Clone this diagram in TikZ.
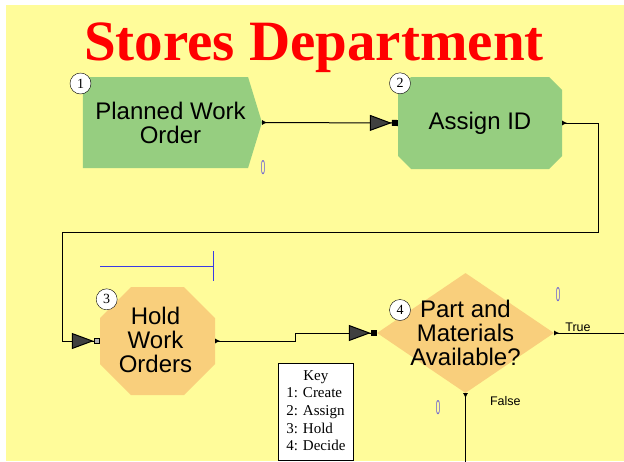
\documentclass[tikz,border=0pt]{standalone}
\usepackage{fontspec}
\setmainfont{Liberation Serif}
\newfontfamily\arialfont{Liberation Sans}
\usetikzlibrary{arrows.meta,shapes.geometric,shapes.symbols}
\definecolor{ArenaYellow}{HTML}{FFFC9A}
\definecolor{ArenaGreen}{HTML}{96CE80}
\definecolor{ArenaOrange}{HTML}{F9CF7C}
\definecolor{ArenaTip}{HTML}{404040}
\definecolor{ArenaSquare}{HTML}{B4B4B4}
\definecolor{CounterBlue}{HTML}{6E64D2}
\definecolor{QueueBlue}{HTML}{3A3AE6}

\begin{document}
\begin{tikzpicture}[
    x=1pt, y=-1pt,
    modtext/.style={font=\arialfont\fontsize{24}{24}\selectfont, align=center},
    octo/.style 2 args={rectangle, inner sep=0pt, path picture={\fill[#2]
      ([xshift=#1]path picture bounding box.north west) --
      ([xshift=-#1]path picture bounding box.north east) --
      ([yshift=-#1]path picture bounding box.north east) --
      ([yshift=#1]path picture bounding box.south east) --
      ([xshift=-#1]path picture bounding box.south east) --
      ([xshift=#1]path picture bounding box.south west) --
      ([yshift=#1]path picture bounding box.south west) --
      ([yshift=-#1]path picture bounding box.north west) -- cycle;}},
    createbox/.style={signal, signal to=east, signal pointer angle=146, fill=ArenaGreen,
      minimum width=179pt, minimum height=91pt, inner sep=0pt},
    assignbox/.style={octo={13pt}{ArenaGreen}, minimum width=164pt, minimum height=92pt},
    holdbox/.style={octo={31pt}{ArenaOrange}, minimum width=115pt, minimum height=108pt},
    decidebox/.style={diamond, fill=ArenaOrange, minimum width=177pt,
      minimum height=120pt, inner sep=0pt},
    numcirc/.style={circle, draw, fill=white, minimum size=21pt, inner sep=0pt,
      font=\fontsize{14}{14}\selectfont},
    counter/.style={text=CounterBlue, font=\arialfont\fontsize{20}{20}\selectfont, inner sep=0pt},
    edgetext/.style={font=\arialfont\fontsize{12.5}{12.5}\selectfont, inner sep=1pt},
    keybox/.style={draw, fill=white, line width=0.8pt, inner sep=4pt, minimum width=75pt,
      minimum height=97pt, anchor=north west, font=\fontsize{15}{17.7}\selectfont},
    arr/.style={{Latex[length=5pt,width=5pt,reversed]}-{Triangle[length=22pt,width=16pt,fill=ArenaTip] Square[length=6pt,width=6pt,fill=black]},
      line width=1pt},
    arrhold/.style={{Latex[length=5pt,width=5pt,reversed]}-{Triangle[length=22pt,width=16pt,fill=ArenaTip] Square[length=6pt,width=6pt,fill=ArenaSquare]},
      line width=1pt},
    arrout/.style={{Latex[length=5pt,width=5pt,reversed]}-, line width=1pt},
    queue/.style={QueueBlue, line width=1pt}
  ]
    \useasboundingbox (0,0) rectangle (624,461);
    \fill[white] (0,0) rectangle (624,461);
    \fill[ArenaYellow] (6,5) rectangle (624,461);

    \node[anchor=base, text=red, font=\fontsize{57}{60}\selectfont\bfseries] (title) at (314,60) {Stores Department};

    % modules
    \node[createbox, label={[modtext, xshift=5pt]center:{Planned Work\\Order}}] (create) at (165.5,122.5) {};
    \node[assignbox, label={[modtext]center:{Assign ID}}] (assign) at (480,123) {};
    \node[holdbox, label={[modtext, xshift=-2pt, yshift=1pt]center:{Hold\\Work\\Orders}}] (hold) at (157.5,341) {};
    \node[decidebox, label={[modtext]center:{Part and\\Materials\\Available?}}] (decide) at (465.5,333) {};

    % queue of the hold
    \coordinate (qL) at (100,266);
    \coordinate (qR) at (213,266);
    \draw[queue] (qL) -- (qR) ++(0,-15) -- ++(0,30);

    % connectors
    \coordinate (loopR) at (598,232);
    \coordinate (loopL) at (62,232);
    \coordinate (trueEnd) at ([xshift=72pt]decide.east);
    \coordinate (falseEnd) at ([yshift=-70pt]decide.south);
    \draw[arr] (create.east) -- (assign.west);
    \draw[arrhold] (assign.east) -| (loopR) -- (loopL) |- (hold.west);
    \draw[arr] (hold.east) -- ++(80,0) |- (decide.west);
    \draw[arrout] (decide.east) -- node[edgetext, pos=0.33, above] (truelbl) {True} (trueEnd);
    \draw[arrout] (decide.south) -- node[edgetext, pos=0.11, right=23pt] (falselbl) {False} (falseEnd);

    % numbers
    \node[numcirc] (n1) at (80.5,83.5) {1};
    \node[numcirc] (n2) at (400,83.3) {2};
    \node[numcirc] (n3) at (106.7,299.3) {3};
    \node[numcirc] (n4) at (400,310) {4};

    % counters
    \node[counter] (cnt1) at (263,168) {\scalebox{0.4}[1]{0}};
    \node[counter] (cnt2) at (558,295) {\scalebox{0.4}[1]{0}};
    \node[counter] (cnt3) at (438,408) {\scalebox{0.4}[1]{0}};

    \node[keybox] (key) at (278,363) {\begin{tabular}{@{}l@{}}
      \multicolumn{1}{@{}c@{}}{Key}\\1: Create\\2: Assign\\3: Hold\\4: Decide
    \end{tabular}};
  \end{tikzpicture}
\end{document}
